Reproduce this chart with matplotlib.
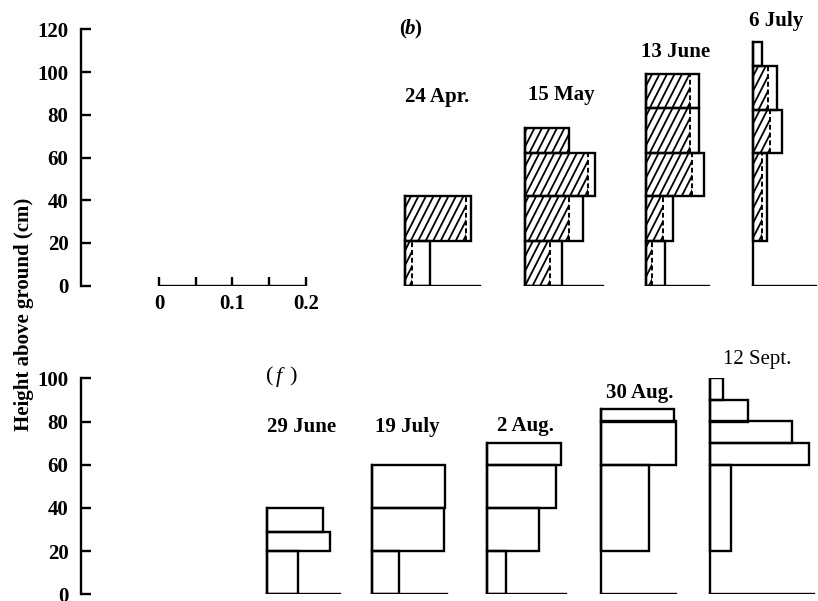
import numpy as np
import matplotlib
matplotlib.use("Agg")
import matplotlib.pyplot as plt
from matplotlib.patches import Rectangle
from matplotlib.collections import LineCollection

plt.rcParams['font.family'] = ['Liberation Serif', 'DejaVu Serif']
plt.rcParams['font.weight'] = 'bold'

# ---------------- data ----------------
# (b): layered profiles; total width and hatched part of each layer
b_dates = ['24 Apr.', '15 May', '13 June', '6 July']
b_bottoms = [[0, 21], [0, 21, 42, 62], [0, 21, 42, 62, 83], [21, 62, 82, 103]]
b_tops = [[21, 42], [21, 42, 62, 74], [21, 42, 62, 83, 99], [62, 82, 103, 114]]
b_total = [[0.034, 0.090],
           [0.051, 0.080, 0.096, 0.061],
           [0.025, 0.036, 0.079, 0.071, 0.071],
           [0.019, 0.040, 0.033, 0.012]]
b_hatched = [[0.010, 0.083],
             [0.035, 0.060, 0.086, 0.061],
             [0.007, 0.023, 0.062, 0.059, 0.059],
             [0.012, 0.024, 0.021, 0.0]]

# (f): open layered profiles
f_dates = ['29 June', '19 July', '2 Aug.', '30 Aug.', '12 Sept.']
f_bottoms = [[0, 20, 29], [0, 20, 40], [0, 20, 40, 60], [20, 60, 80], [20, 60, 70, 80, 90]]
f_tops = [[20, 29, 40], [20, 40, 60], [20, 40, 60, 70], [60, 80, 86], [60, 70, 80, 90, 100]]
f_total = [[0.043, 0.086, 0.077],
           [0.037, 0.098, 0.099],
           [0.026, 0.071, 0.094, 0.100],
           [0.065, 0.103, 0.099],
           [0.028, 0.134, 0.112, 0.051, 0.018]]

scale_ticks = [0, 0.05, 0.1, 0.15, 0.2]
scale_labels = ['0', '0.1', '0.2']
b_yticks = [0, 20, 40, 60, 80, 100, 120]
f_yticks = [0, 20, 40, 60, 80, 100]

# ---------------- layout ----------------
b_origin = [0.335, 0.498, 0.664, 0.809]
b_base_len = [0.102, 0.107, 0.085, 0.086]
f_origin = [0.147, 0.290, 0.447, 0.602, 0.751]
f_base_len = [0.099, 0.102, 0.108, 0.102, 0.141]

W, H = 818, 601
LW = 1.7
fig = plt.figure(figsize=(W / 100, H / 100), dpi=100)

x_left, x_right = -0.1063, 0.8978


def make_axes(y_top_px, y_zero_px, ymax, yticks):
    ax = fig.add_axes([81 / W, (H - y_zero_px) / H, (W - 81) / W, (y_zero_px - y_top_px) / H])
    ax.set_xlim(x_left, x_right)
    ax.set_ylim(0, ymax)
    for s in ('top', 'right', 'bottom'):
        ax.spines[s].set_visible(False)
    ax.spines['left'].set_linewidth(LW)
    ax.spines['left'].set_bounds(0, ymax)
    ax.set_xticks([])
    ax.set_yticks(yticks)
    ax.tick_params(axis='y', direction='in', length=7, width=LW, pad=9, labelsize=15)
    for lbl in ax.get_yticklabels():
        lbl.set_fontweight('bold')
    ax.patch.set_visible(False)
    return ax


ax_b = make_axes(29.3, 285.7, 120, b_yticks)
ax_f = make_axes(378.3, 594.3, 100, f_yticks)


def hatch(ax, x0, y0, w, h, spacing=7.5, angle=63, lw=1.3):
    clip = Rectangle((x0, y0), w, h, transform=ax.transData)
    (dx0, dy0) = ax.transData.transform((x0, y0))
    (dx1, dy1) = ax.transData.transform((x0 + w, y0 + h))
    run = (dy1 - dy0) / np.tan(np.radians(angle))
    inv = ax.transData.inverted()
    segs = []
    for c in np.arange(dx1 - spacing * 0.35, dx0 - run - spacing, -spacing):
        p0 = inv.transform((c, dy0))
        p1 = inv.transform((c + run, dy1))
        segs.append([p0, p1])
    lc = LineCollection(segs, colors='black', linewidths=lw)
    ax.add_collection(lc)
    lc.set_clip_path(clip)


def draw_profile(ax, origin, base_len, bottoms, tops, totals, hatched=None):
    top = max(tops)
    ax.plot([origin, origin], [0, top], color='black', lw=LW, solid_capstyle='projecting')
    ax.plot([origin, origin + base_len], [0, 0], color='black', lw=LW, solid_capstyle='projecting')
    for i, (y0, y1, w) in enumerate(zip(bottoms, tops, totals)):
        ax.add_patch(Rectangle((origin, y0), w, y1 - y0, facecolor='none',
                               edgecolor='black', lw=LW, joinstyle='miter'))
        if hatched is not None and hatched[i] > 0:
            hw = hatched[i]
            hatch(ax, origin, y0, hw, y1 - y0)
            if hw < w - 1e-6:
                ax.plot([origin + hw, origin + hw], [y0, y1], color='black', lw=1.4,
                        linestyle=(0, (2.5, 1.5)))


for o, bl, bt, tp, tw, hw in zip(b_origin, b_base_len, b_bottoms, b_tops, b_total, b_hatched):
    draw_profile(ax_b, o, bl, bt, tp, tw, hw)
for o, bl, bt, tp, tw in zip(f_origin, f_base_len, f_bottoms, f_tops, f_total):
    draw_profile(ax_f, o, bl, bt, tp, tw)

# scale bar for widths
ax_b.plot([scale_ticks[0], scale_ticks[-1]], [0, 0], color='black', lw=LW, solid_capstyle='butt')
for t in scale_ticks:
    ax_b.plot([t, t], [0, 4.2], color='black', lw=LW, solid_capstyle='butt')
for t, s in zip(scale_ticks[::2], scale_labels):
    ax_b.text(t, -8.5, s, ha='center', va='center', fontsize=15, fontweight='bold')


def ftext(x, y, s, **kw):
    fig.text(x / W, 1 - y / H, s, **kw)


# date labels
for xc, yc, s in zip([437, 561, 676, 776], [96.7, 95, 51.7, 20.7], b_dates):
    ftext(xc, yc, s, ha='center', va='center', fontsize=15, fontweight='bold')
for xc, yc, s in zip([302, 407.5, 525, 640, 757.5], [427, 426.7, 426, 393.3, 359.3], f_dates):
    ftext(xc, yc, s, ha='center', va='center', fontsize=15,
          fontweight='normal' if s.startswith('12') else 'bold')

# panel letters
ftext(399, 29.3, '(', ha='left', va='center', fontsize=15, fontweight='bold')
ftext(405, 29.3, 'b', ha='left', va='center', fontsize=15, fontweight='bold', style='italic')
ftext(414, 29.3, ')', ha='left', va='center', fontsize=15, fontweight='bold')
ftext(266, 376.7, '(', ha='left', va='center', fontsize=16, fontweight='normal')
ftext(276, 376.7, 'f', ha='left', va='center', fontsize=16, fontweight='normal', style='italic')
ftext(289, 376.7, ')', ha='left', va='center', fontsize=16, fontweight='normal')

# shared vertical label
ftext(24, 314, 'Height above ground (cm)', rotation=90, ha='center', va='center',
      fontsize=15, fontweight='bold')

fig.savefig('out.png', dpi=100)
